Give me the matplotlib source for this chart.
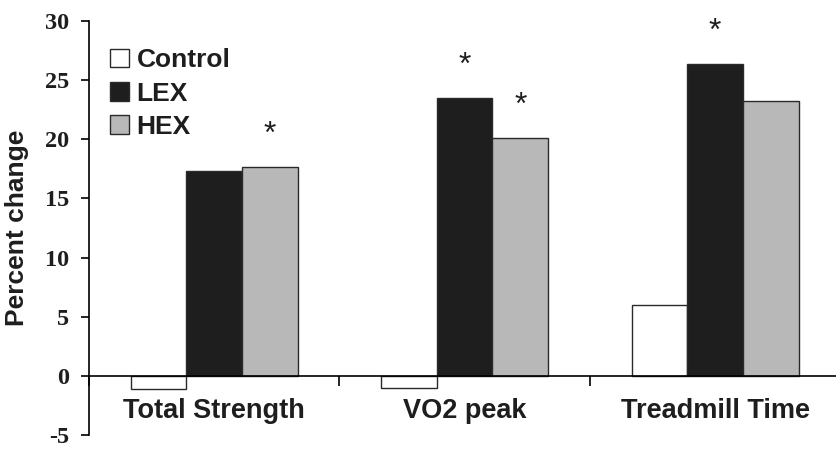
import matplotlib
matplotlib.use("Agg")
import matplotlib.pyplot as plt
import numpy as np

categories = ["Total Strength", "VO2 peak", "Treadmill Time"]
series_names = ["Control", "LEX", "HEX"]
control = [-1.1, -1.0, 6.0]
lex = [17.3, 23.5, 26.4]
hex_ = [17.7, 20.1, 23.2]
# significance stars: (category index, series index)
stars = [(0, 2), (1, 1), (1, 2), (2, 1)]
yticks = [-5, 0, 5, 10, 15, 20, 25, 30]

colors = ["white", "#1e1e1e", "#b8b8b8"]
values = [control, lex, hex_]

fig = plt.figure(figsize=(8.37, 4.49), dpi=100)
ax = fig.add_axes([0.1063, 0.031, 0.8937 + 0.004, 0.9222])

bw = 0.222
x = np.arange(len(categories)) + 0.5
for i, (name, vals, c) in enumerate(zip(series_names, values, colors)):
    ax.bar(x + (i - 1) * bw, vals, width=bw, color=c, edgecolor="#2a2a2a",
           linewidth=1.0, label=name, zorder=2)

for ci, si in stars:
    v = values[si][ci]
    ax.text(x[ci] + (si - 1) * bw, v + 2.7, "*", ha="center", va="center",
            fontsize=23, family="Liberation Sans", color="#1e1e1e")

ax.set_xlim(0, 3.0)
ax.set_ylim(-5, 30)
ax.set_yticks(yticks)
ax.set_yticklabels([str(t) for t in yticks], family="Liberation Serif",
                   fontweight="bold", fontsize=17.5, color="#1e1e1e")
ax.tick_params(axis="y", direction="out", length=6, width=1.2, pad=8)

ax.spines["top"].set_visible(False)
ax.spines["right"].set_visible(False)
ax.spines["bottom"].set_position(("data", 0))
ax.spines["left"].set_linewidth(1.2)
ax.spines["bottom"].set_linewidth(1.2)

ax.set_xticks([0, 1, 2, 3])
ax.set_xticklabels([])
ax.tick_params(axis="x", direction="out", length=7, width=1.2)
for xi, cat in zip(x, categories):
    ax.text(xi, -3.0, cat, ha="center", va="center", family="Liberation Sans",
            fontweight="bold", fontsize=19.5, color="#1e1e1e")

ax.set_ylabel("Percent change", family="Liberation Sans", fontweight="bold",
              fontsize=19, color="#1e1e1e")
ax.yaxis.set_label_coords(-0.080, 0.5)

leg = ax.legend(loc="upper left", bbox_to_anchor=(0.0, 0.985), frameon=False,
                prop={"family": "Liberation Sans", "weight": "bold", "size": 19},
                handlelength=0.7, handleheight=0.7, handletextpad=0.3,
                labelspacing=0.35, borderaxespad=0.4)
for t in leg.get_texts():
    t.set_color("#1e1e1e")

fig.savefig("out.png", dpi=100)
